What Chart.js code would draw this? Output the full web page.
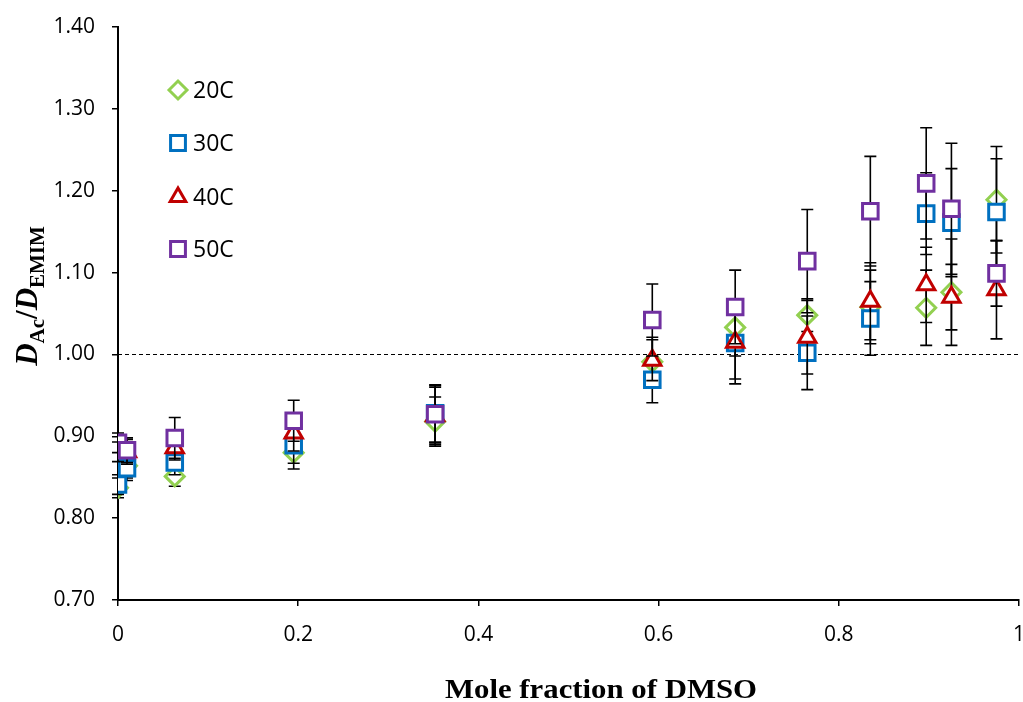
<!DOCTYPE html>
<html>
<head>
<meta charset="utf-8">
<script src="https://cdn.jsdelivr.net/npm/chart.js@4.4.0/dist/chart.umd.min.js"></script>
<style>
  body { margin: 0; background: #fff; }
</style>
</head>
<body>
<canvas id="chart" width="1023" height="702"></canvas>
<script>
// mole fraction of DMSO
var xFrac = [0, 0.01, 0.063, 0.195, 0.352, 0.593, 0.685, 0.765, 0.835, 0.897, 0.925, 0.975];

// D_Ac / D_EMIM at each temperature, with error bar half-widths
var ratio20 = [0.837, 0.864, 0.851, 0.880, 0.918, 0.991, 1.033, 1.048, 1.058, 1.057, 1.076, 1.189];
var err20   = [0.012, 0.015, 0.012, 0.020, 0.030, 0.030, 0.035, 0.020, 0.045, 0.046, 0.065, 0.065];
var ratio30 = [0.841, 0.861, 0.868, 0.889, 0.928, 0.969, 1.014, 1.002, 1.044, 1.172, 1.161, 1.174];
var err30   = [0.012, 0.015, 0.015, 0.022, 0.035, 0.028, 0.050, 0.045, 0.045, 0.050, 0.066, 0.065];
var ratio40 = [0.881, 0.881, 0.886, 0.904, 0.925, 0.993, 1.015, 1.021, 1.065, 1.085, 1.070, 1.079];
var err40   = [0.012, 0.015, 0.015, 0.022, 0.035, 0.025, 0.045, 0.045, 0.047, 0.046, 0.040, 0.060];
var ratio50 = [0.892, 0.883, 0.898, 0.919, 0.927, 1.042, 1.058, 1.114, 1.175, 1.209, 1.178, 1.099];
var err50   = [0.012, 0.015, 0.025, 0.025, 0.035, 0.044, 0.045, 0.063, 0.067, 0.068, 0.080, 0.040];

var xTicks = ['0', '0.2', '0.4', '0.6', '0.8', '1'];
var refLine = 1.00;

function pts(ys) {
  return xFrac.map(function (x, i) { return { x: x, y: ys[i] }; });
}

function series(label, ys, errs, color, style, radius, order) {
  return {
    label: label,
    data: pts(ys),
    errors: errs,
    showLine: false,
    borderColor: color,
    backgroundColor: '#ffffff',
    pointStyle: style,
    pointRadius: radius,
    pointBorderWidth: 3,
    order: order
  };
}

// error bars drawn right before each dataset's own markers (Excel-like stacking)
var errorBars = {
  id: 'errorBars',
  beforeDatasetDraw: function (chart, args) {
    var ds = chart.data.datasets[args.index];
    if (!ds.errors) return;
    var ctx = chart.ctx, xs = chart.scales.x, ys = chart.scales.y;
    ctx.save();
    ctx.strokeStyle = '#000';
    ctx.lineWidth = 1.6;
    ds.data.forEach(function (p, i) {
      var px = xs.getPixelForValue(p.x);
      var top = ys.getPixelForValue(p.y + ds.errors[i]);
      var bot = ys.getPixelForValue(p.y - ds.errors[i]);
      ctx.beginPath();
      ctx.moveTo(px, top); ctx.lineTo(px, bot);
      ctx.moveTo(px - 6, top); ctx.lineTo(px + 6, top);
      ctx.moveTo(px - 6, bot); ctx.lineTo(px + 6, bot);
      ctx.stroke();
    });
    ctx.restore();
  }
};

var decorations = {
  id: 'decorations',
  beforeDatasetsDraw: function (chart) {
    var ctx = chart.ctx, xs = chart.scales.x, ys = chart.scales.y;
    var y = Math.round(ys.getPixelForValue(refLine)) + 0.5;
    ctx.save();
    ctx.strokeStyle = '#000';
    ctx.lineWidth = 1;
    ctx.setLineDash([4, 3]);
    ctx.beginPath();
    ctx.moveTo(xs.left, y);
    ctx.lineTo(xs.right, y);
    ctx.stroke();
    ctx.restore();
  },
  afterDraw: function (chart) {
    var ctx = chart.ctx;
    ctx.save();
    ctx.fillStyle = '#000';

    // x title (slightly stretched like the original)
    ctx.font = 'bold 27px "Liberation Serif", serif';
    ctx.textAlign = 'center';
    ctx.textBaseline = 'alphabetic';
    ctx.save();
    ctx.translate(601, 698);
    ctx.scale(1.14, 1);
    ctx.fillText('Mole fraction of DMSO', 0, 0);
    ctx.restore();

    // y title: D_Ac / D_EMIM
    var big = 'bold italic 31px "Liberation Serif", serif';
    var bigR = 'bold 31px "Liberation Serif", serif';
    var sub = 'bold 21px "Liberation Serif", serif';
    var parts = [
      { t: 'D', f: big, dy: 0 },
      { t: 'Ac', f: sub, dy: 7 },
      { t: '/', f: bigR, dy: 0 },
      { t: 'D', f: big, dy: 0 },
      { t: 'EMIM', f: sub, dy: 7 }
    ];
    var total = 0;
    parts.forEach(function (p) { ctx.font = p.f; p.w = ctx.measureText(p.t).width; total += p.w; });
    ctx.save();
    ctx.translate(37, 296);
    ctx.rotate(-Math.PI / 2);
    ctx.textAlign = 'left';
    var cx = -total / 2;
    parts.forEach(function (p) {
      ctx.font = p.f;
      ctx.fillText(p.t, cx, p.dy);
      cx += p.w;
    });
    ctx.restore();

    // legend inside the plot
    var legendY = [90, 143, 197, 249];
    chart.data.datasets.forEach(function (ds, i) {
      var lx = 178, ly = legendY[i];
      ctx.strokeStyle = ds.borderColor;
      ctx.fillStyle = '#fff';
      ctx.lineWidth = 3;
      Chart.helpers.drawPoint(ctx, {
        pointStyle: ds.pointStyle,
        radius: ds.pointStyle === 'rect' ? 10.5 : 9,
        borderWidth: 3,
        rotation: 0
      }, lx, ly);
      ctx.fillStyle = '#000';
      ctx.font = '23px "Open Sans", sans-serif';
      ctx.textAlign = 'left';
      ctx.textBaseline = 'middle';
      ctx.fillText(ds.label, 193, ly + 1);
    });
    ctx.restore();
  }
};

new Chart(document.getElementById('chart'), {
  type: 'scatter',
  data: {
    datasets: [
      series('20C', ratio20, err20, '#92D050', 'rectRot', 9.5, 4),
      series('30C', ratio30, err30, '#0070C0', 'rect', 11, 3),
      series('40C', ratio40, err40, '#C00000', 'triangle', 10, 2),
      series('50C', ratio50, err50, '#7030A0', 'rect', 11, 1)
    ]
  },
  options: {
    responsive: false,
    animation: false,
    devicePixelRatio: 1,
    layout: { autoPadding: false, padding: { top: 27, right: 4, left: 0, bottom: 0 } },
    plugins: {
      legend: { display: false },
      tooltip: { enabled: false }
    },
    scales: {
      x: {
        type: 'linear',
        min: 0,
        max: 1,
        afterFit: function (s) {
          s.height = 102;
          s.paddingLeft = 0;
          s.paddingRight = 0;
        },
        ticks: {
          stepSize: 0.2,
          color: '#000',
          padding: 16,
          font: { family: '"Open Sans", sans-serif', size: 21 },
          callback: function (v, i) { return xTicks[i]; }
        },
        grid: { drawOnChartArea: false, drawTicks: true, tickLength: 6, color: '#000', lineWidth: 1.5 },
        border: { color: '#000', width: 2 }
      },
      y: {
        min: 0.7,
        max: 1.4,
        afterFit: function (s) {
          s.width = 118;
          s.paddingTop = 0;
          s.paddingBottom = 0;
        },
        ticks: {
          stepSize: 0.1,
          color: '#000',
          padding: 17,
          font: { family: '"Open Sans", sans-serif', size: 21 },
          callback: function (v) { return v.toFixed(2); }
        },
        grid: { drawOnChartArea: false, drawTicks: true, tickLength: 6, color: '#000', lineWidth: 1.5 },
        border: { color: '#000', width: 2 }
      }
    }
  },
  plugins: [errorBars, decorations]
});
</script>
</body>
</html>
